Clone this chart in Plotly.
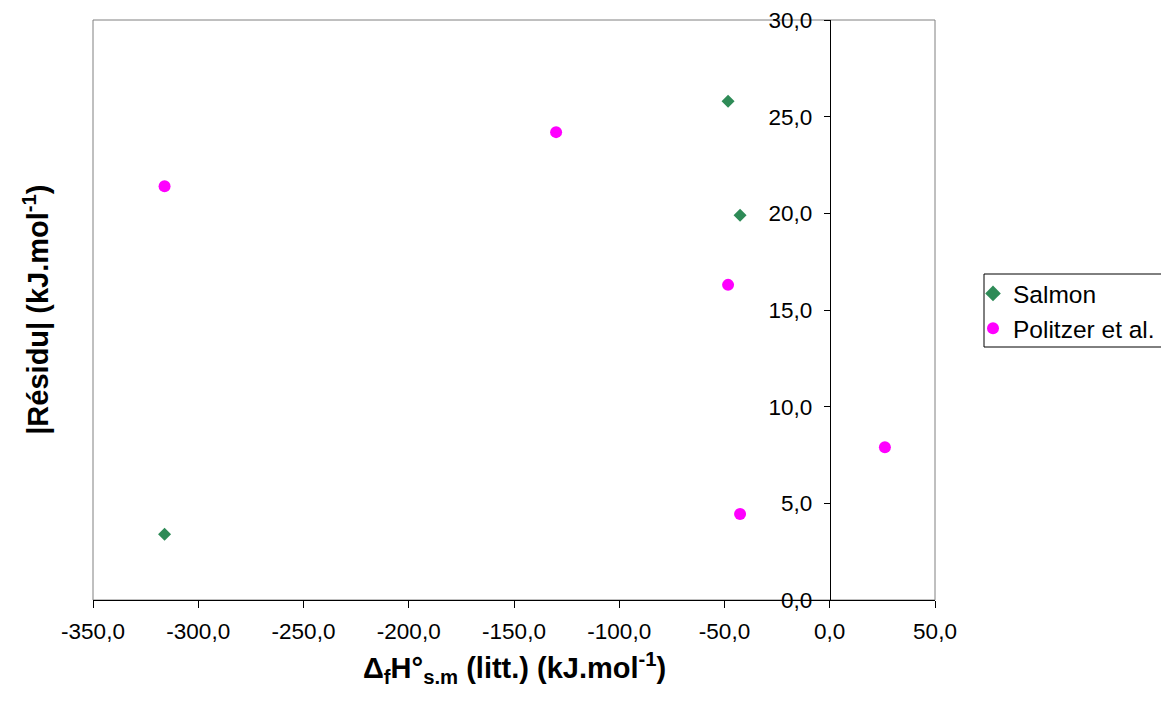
import plotly.graph_objects as go

# Data
salmon_x = [-48.3, -42.6, -316.0]
salmon_y = [25.8, 19.9, 3.4]
politzer_x = [-316.0, -130.0, -48.3, -42.6, 26.2]
politzer_y = [21.4, 24.2, 16.3, 4.45, 7.9]

x_ticks = [-350, -300, -250, -200, -150, -100, -50, 0, 50]
x_ticktext = ["-350,0", "-300,0", "-250,0", "-200,0", "-150,0", "-100,0", "-50,0", "0,0", "50,0"]
y_ticks = [0, 5, 10, 15, 20, 25, 30]
y_ticktext = ["0,0", "5,0", "10,0", "15,0", "20,0", "25,0", "30,0"]

FONT = "Liberation Sans, Arial, sans-serif"

fig = go.Figure()
fig.add_trace(go.Scatter(x=salmon_x, y=salmon_y, mode="markers", name="Salmon",
                         marker=dict(symbol="diamond", size=10, color="#2E8B57")))
fig.add_trace(go.Scatter(x=politzer_x, y=politzer_y, mode="markers", name="Politzer et al.",
                         marker=dict(symbol="circle", size=12, color="#FF00FF")))

xmin, xmax = -350, 50
# plot area in paper coords: 842 px wide, 580 px high, left at window x=93, top at y=20
fig.update_layout(
    width=1161, height=693,
    margin=dict(l=85, r=234, t=12, b=101, autoexpand=False),
    paper_bgcolor="white", plot_bgcolor="white",
    font=dict(family=FONT, size=22, color="black"),
    xaxis=dict(range=[xmin, xmax], tickvals=x_ticks, ticktext=x_ticktext,
               tickfont=dict(family=FONT, size=22.5), ticklabelstandoff=4,
               showgrid=False, zeroline=False, showline=True, linecolor="black", linewidth=1,
               ticks="outside", ticklen=7, tickcolor="black", domain=[0, 1]),
    yaxis=dict(range=[0, 30], tickvals=y_ticks, ticktext=y_ticktext,
               tickfont=dict(family=FONT, size=22.5), ticklabelstandoff=7,
               ticklabeloverflow="allow",
               showgrid=False, zeroline=False, showline=True, linecolor="black", linewidth=1,
               ticks="outside", ticklen=6, tickcolor="black",
               anchor="free", position=(0 - xmin) / (xmax - xmin)),
    showlegend=True,
    legend=dict(x=(973 - 93) / 842, y=(600 - 271) / 580, xanchor="left", yanchor="top",
                borderwidth=0, bgcolor="rgba(0,0,0,0)",
                font=dict(family=FONT, size=24.5), itemsizing="constant",
                tracegroupgap=0, itemwidth=30),
    shapes=[
        dict(type="rect", xref="paper", yref="paper", x0=0, x1=1, y0=0, y1=1,
             line=dict(color="#808080", width=1), layer="below"),
        dict(type="rect", xref="paper", yref="paper",
             x0=(984 - 93) / 842, x1=(1200 - 93) / 842,
             y0=(600 - 347) / 580, y1=(600 - 274) / 580,
             line=dict(color="black", width=1), fillcolor="white", layer="below"),
    ],
    annotations=[
        dict(text="<b>Δ<sub>f</sub>H°<sub>s.m</sub> (litt.) (kJ.mol<sup>-1</sup>)</b>",
             xref="paper", yref="paper", x=0.5, y=-0.117, xanchor="center", yanchor="middle",
             showarrow=False, font=dict(family=FONT, size=29)),
        dict(text="<b>|Résidu| (kJ.mol<sup>-1</sup>)</b>",
             xref="paper", yref="paper", x=-0.068, y=0.5, xanchor="center", yanchor="middle",
             textangle=-90, showarrow=False, font=dict(family=FONT, size=29)),
    ],
)

fig.write_html("out.html")
